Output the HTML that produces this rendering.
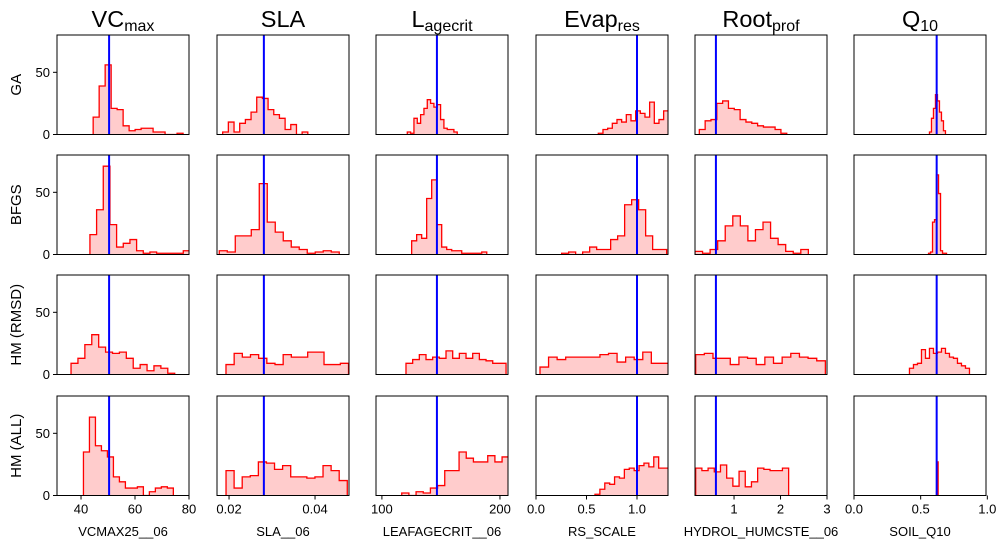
<!DOCTYPE html>
<html><head><meta charset="utf-8"><style>
body{margin:0;background:#fff;}
svg{display:block;font-family:"Liberation Sans",sans-serif;}
</style></head><body>
<svg id="fig" width="998" height="549" viewBox="0 0 998 549"></svg>
<script>
const paramTitles=[["VC","max"],["SLA",""],["L","agecrit"],["Evap","res"],["Root","prof"],["Q","10"]];
const rowLabels=["GA","BFGS","HM (RMSD)","HM (ALL)"];
const xLabels=["VCMAX25__06","SLA__06","LEAFAGECRIT__06","RS_SCALE","HYDROL_HUMCSTE__06","SOIL_Q10"];
const xDomains=[[31.1,80],[0.0172,0.0479],[95,206.8],[0,1.307],[0.16,3.0],[0,0.99]];
const xTicks=[[40,60,80],[0.02,0.04],[100,200],[0,0.5,1.0],[1,2,3],[0,0.5,1.0]];
const xTickLabels=[["40","60","80"],["0.02","0.04"],["100","200"],["0.0","0.5","1.0"],["1","2","3"],["0.0","0.5","1.0"]];
const refValues=[50.4,0.0281,146.6,1.0,0.61,0.62];
const yTicks=[0,50];
const yDomain=[0,80];
// histograms: [start, binWidth, counts] per row, per column
const histGA=[
 [44.5,2.22,[14,39,56,21,20,7,3,4,5,5,2,2,0,0,1]],
 [0.01852,0.00132,[2,10,2,9,12,18,30,29,20,16,13,4,8,0,2]],
 [121.5,2.82,[2,1,13,9,16,21,28,25,22,24,12,5,4,4,2]],
 [0.617,0.0462,[1,4,5,9,12,10,16,11,19,17,14,26,9,12,19]],
 [0.253,0.1254,[4,11,12,25,27,21,20,12,10,9,7,6,6,4,1]],
 [0.566,0.015,[2,13,21,32,27,18,11,3]]
];
const histBFGS=[
 [43.3,2.47,[16,36,71,24,6,9,12,3,1,2,1,1,1,1,3]],
 [0.01773,0.00186,[3,2,15,15,20,57,26,18,11,6,4,1,2,3,2]],
 [125.2,4.24,[11,16,13,45,60,24,6,4,3,3,1,1,1,1,2]],
 [0.254,0.0693,[1,2,0,2,6,4,4,12,15,40,44,36,15,4,4]],
 [0.16,0.1626,[2.5,1,4,11,23,31,23,11,20,26,13,8,2.5,1,4]],
 [0.559,0.015,[1,2,26,28,64,49,3,1,1]]
];
const histHMR=[
 [36.3,2.56,[9,13,24,32,22,18,17,18,13,5,8,3,7,5,1]],
 [0.01929,0.0019,[8,17,14,16,13,9,8,16,14,14,18,18,8,8,9]],
 [120.4,5.65,[9,12,16,12,14,13,19,13,17,13,17,12,11,9,9]],
 [0.0396,0.0848,[6,14,12,14,14,14,14,16,17,10,14,12,18,9,9]],
 [0.175,0.186,[16,17,13,13,8,14,13,8,14,9,14,17,14,13,11]],
 [0.416,0.030,[5,8,9,20,13,21,17,18,21,17,14,13,9,7,5]]
];
const histHMA=[
 [40.9,2.22,[35,63,40,36,31,15,11,6,6,7,0,3,6,7,6]],
 [0.0193,0.00188,[20,6,15,16,27,26,21,24,15,15,14,15,24,20,12]],
 [116.8,6.07,[2,0,3,2,6,8,20,20,35,30,27,27,32,27,31]],
 [0.584,0.0485,[1,5,10,9,15,14,21,22,20,24,26,23,31,22,22]],
 [0.175,0.1333,[22,20,22,19,24.5,14,7.5,19.5,7,11,22,21,20,20,22]],
 [0.619,0.006,[3,27]]
];
const allHists=[histGA,histBFGS,histHMR,histHMA];

const NS="http://www.w3.org/2000/svg";
const svg=document.getElementById('fig');
const colLeft=[57,217,376,536,695,854], W=132;
const rowTop=[35,155,275,396], H=99.5;
function mk(tag,attrs,parent){const e=document.createElementNS(NS,tag);for(const k in attrs)e.setAttribute(k,attrs[k]);(parent||svg).appendChild(e);return e;}

paramTitles.forEach((t,c)=>{
  const tx=mk('text',{x:colLeft[c]+W/2,y:27,'text-anchor':'middle','font-size':23.5});
  
  
  tx.appendChild(document.createTextNode(t[0]));
  if(t[1]){const s=mk('tspan',{'font-size':16,dy:4},tx);s.textContent=t[1];}
});
rowLabels.forEach((l,r)=>{
  const cy=rowTop[r]+H/2;
  const tx=mk('text',{x:21,y:cy,'text-anchor':'middle','font-size':15,transform:`rotate(-90 21 ${cy})`});
  
  
  tx.textContent=l;
});

for(let r=0;r<4;r++){
  for(let c=0;c<6;c++){
    const x0=colLeft[c], y0=rowTop[r];
    const [d0,d1]=xDomains[c];
    const xs=v=>x0+(v-d0)/(d1-d0)*W;
    const ys=v=>y0+H-(v-yDomain[0])/(yDomain[1]-yDomain[0])*H;
    const g=mk('g',{});
    
    
    const clipId='clip'+r+'_'+c;
    const cp=mk('clipPath',{id:clipId},g);
    mk('rect',{x:x0,y:y0,width:W,height:H},cp);
    const [st,bw,counts]=allHists[r][c];
    let pts=[[xs(st),ys(0)]];
    counts.forEach((v,i)=>{
      pts.push([xs(st+i*bw),ys(v)]);
      pts.push([xs(st+(i+1)*bw),ys(v)]);
    });
    pts.push([xs(st+counts.length*bw),ys(0)]);
    const ptsStr=pts.map(p=>p[0].toFixed(2)+','+p[1].toFixed(2)).join(' ');
    const fill=mk('polygon',{points:ptsStr,fill:'#ffcccc',stroke:'none','clip-path':`url(#${clipId})`},g);
    
    
    const line=mk('polyline',{points:ptsStr,fill:'none',stroke:'#ff0000','stroke-width':1.3,'clip-path':`url(#${clipId})`},g);
    
    
    const rl=mk('line',{x1:xs(refValues[c]),x2:xs(refValues[c]),y1:y0,y2:y0+H,stroke:'#0000ff','stroke-width':2},g);
    
    
    const fr=mk('rect',{x:x0,y:y0,width:W,height:H,fill:'none',stroke:'#000','stroke-width':1},g);
    
    
    if(c===0){
      yTicks.forEach(t=>{
        mk('line',{x1:x0-4,x2:x0,y1:ys(t),y2:ys(t),stroke:'#000'},g);
        const tl=mk('text',{x:x0-7,y:ys(t)+4.5,'text-anchor':'end','font-size':13},g);
        
        
        tl.textContent=String(t);
      });
    }
    if(r===3){
      xTicks[c].forEach((t,i)=>{
        mk('line',{x1:xs(t),x2:xs(t),y1:y0+H,y2:y0+H+4,stroke:'#000'},g);
        const tl=mk('text',{x:xs(t),y:y0+H+18,'text-anchor':'middle','font-size':13},g);
        
        
        tl.textContent=xTickLabels[c][i];
      });
      const xl=mk('text',{x:x0+W/2,y:536,'text-anchor':'middle','font-size':13},g);
      
      
      xl.textContent=xLabels[c];
    }
  }
}
</script>
</body></html>
